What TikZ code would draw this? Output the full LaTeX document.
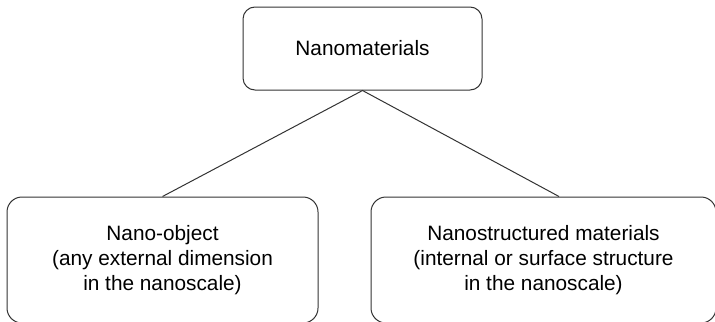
\documentclass[tikz,border=0pt]{standalone}
\usepackage{fontspec}
\setmainfont{Liberation Sans}
\usepackage{tikz}
\tikzset{
    catbox/.style={
        draw=black!80,
        line width=0.5pt,
        rounded corners=6pt,
        align=center,
        inner sep=0pt,
        font=\fontsize{10.4}{12.5}\selectfont,
    },
    subbox/.style={catbox, rounded corners=7.5pt},
    link/.style={draw=black!80, line width=0.5pt},
}

\begin{document}
\begin{tikzpicture}[x=0.5pt, y=-0.5pt]
    \useasboundingbox (0,0) rectangle (715,321);
    \node[catbox, minimum width=119.5pt, minimum height=41.5pt] (nano) at (362.5,48.5) {Nanomaterials};
    \node[subbox, minimum width=155.5pt, minimum height=63pt] (object) at (162.5,260)
        {Nano-object\\(any external dimension\\in the nanoscale)};
    \node[subbox, minimum width=172.5pt, minimum height=63pt] (structured) at (543.5,260)
        {Nanostructured materials\\(internal or surface structure\\in the nanoscale)};
    \coordinate (structured top) at ([xshift=7.75pt]structured.north);
    \draw[link] (object.north) -- (nano.south) -- (structured top);
\end{tikzpicture}
\end{document}
